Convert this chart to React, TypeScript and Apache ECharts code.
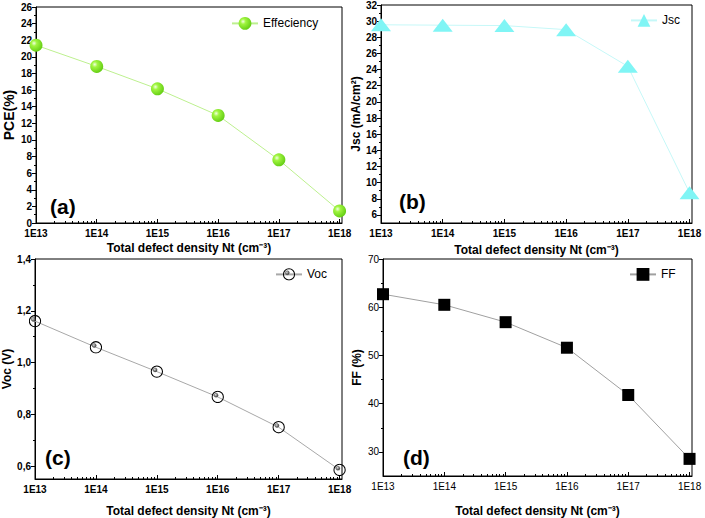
import React, { useEffect, useRef } from "react";
import * as echarts from "echarts";

// ---- data ----
const defectDensity = [1e13, 1e14, 1e15, 1e16, 1e17, 1e18];
const pceValues = [21.4, 18.85, 16.15, 12.95, 7.6, 1.45];
const jscValues = [29.55, 29.5, 29.45, 28.95, 24.4, 8.75];
const vocValues = [1.16, 1.059, 0.965, 0.867, 0.75, 0.585];
const ffValues = [62.7, 60.5, 56.9, 51.6, 41.8, 28.55];

const xMajorExponents = [13, 14, 15, 16, 17, 18];
const pceTicks = [0, 2, 4, 6, 8, 10, 12, 14, 16, 18, 20, 22, 24, 26];
const pceMinorTicks = [1, 3, 5, 7, 9, 11, 13, 15, 17, 19, 21, 23, 25];
const jscTicks = [6, 8, 10, 12, 14, 16, 18, 20, 22, 24, 26, 28, 30, 32];
const jscMinorTicks = [7, 9, 11, 13, 15, 17, 19, 21, 23, 25, 27, 29, 31];
const vocTicks = [0.6, 0.8, 1.0, 1.2, 1.4];
const vocMinorTicks = [0.7, 0.9, 1.1, 1.3];
const ffTicks = [30, 40, 50, 60, 70];
const ffMinorTicks = [35, 45, 55, 65];

const FONT = "'Liberation Sans', Arial, sans-serif";
const X_NAME = "Total defect density Nt (cm\u207B\u00B3)";
const X_MAX = 18.04;

const xMinor: number[] = [];
for (let e = 13; e < 18; e++) {
  for (let k = 2; k <= 9; k++) xMinor.push(e + Math.log10(k));
}

const vocSymbolSvg =
  "<svg xmlns='http://www.w3.org/2000/svg' width='26' height='26' viewBox='0 0 26 26'>" +
  "<defs><radialGradient id='g' cx='0.35' cy='0.35' r='0.7'>" +
  "<stop offset='0' stop-color='#dcdcdc'/><stop offset='0.5' stop-color='#8a8a8a'/><stop offset='1' stop-color='#404040'/>" +
  "</radialGradient></defs>" +
  "<circle cx='13' cy='13' r='11.3' fill='none' stroke='#000' stroke-width='2.1'/>" +
  "<circle cx='9.6' cy='9.6' r='4' fill='url(#g)' stroke='#333' stroke-width='0.8'/>" +
  "</svg>";
const vocSymbol = "image://data:image/svg+xml;charset=utf-8," + encodeURIComponent(vocSymbolSvg);

type Panel = {
  grid: { left: number; top: number; width: number; height: number };
  yMin: number;
  yMax: number;
  yTicks: number[];
  yMinor: number[];
  yName: string;
  yNameGap: number;
  yNameSize: number;
  bold: boolean;
  fmt: (v: number) => string;
};

const panels: Panel[] = [
  {
    grid: { left: 36, top: 7, width: 306, height: 216 },
    yMin: 0, yMax: 26, yTicks: pceTicks, yMinor: pceMinorTicks,
    yName: "PCE(%)", yNameGap: 20, yNameSize: 14, bold: true,
    fmt: (v) => String(Math.round(v)),
  },
  {
    grid: { left: 381, top: 5, width: 311, height: 218 },
    yMin: 5, yMax: 32, yTicks: jscTicks, yMinor: jscMinorTicks,
    yName: "Jsc (mA/cm\u00B2)", yNameGap: 16, yNameSize: 12, bold: true,
    fmt: (v) => String(Math.round(v)),
  },
  {
    grid: { left: 35, top: 259, width: 307, height: 220 },
    yMin: 0.55, yMax: 1.4, yTicks: vocTicks, yMinor: vocMinorTicks,
    yName: "Voc (V)", yNameGap: 21, yNameSize: 12, bold: true,
    fmt: (v) => v.toFixed(1).replace(".", ","),
  },
  {
    grid: { left: 383, top: 259, width: 309, height: 217 },
    yMin: 25, yMax: 70, yTicks: ffTicks, yMinor: ffMinorTicks,
    yName: "FF (%)", yNameGap: 20, yNameSize: 12, bold: false,
    fmt: (v) => String(Math.round(v)),
  },
];

const xNameGaps = [19, 21, 26, 29];

function buildOption() {
  const grids: any[] = [];
  const xAxes: any[] = [];
  const yAxes: any[] = [];
  panels.forEach((p, i) => {
    grids.push({ ...p.grid, show: true, borderColor: "#000", borderWidth: 1, backgroundColor: "transparent" });
    const labelStyle = {
      fontFamily: FONT,
      fontSize: 10,
      fontWeight: p.bold ? "bold" : "normal",
      color: "#000",
    };
    xAxes.push({
      type: "value", gridIndex: i, min: 13, max: X_MAX, position: "bottom",
      axisLine: { show: true, onZero: false, lineStyle: { color: "#000", width: 1 } },
      axisTick: { show: true, inside: true, length: 4, customValues: xMajorExponents, lineStyle: { color: "#000" } },
      axisLabel: { ...labelStyle, customValues: xMajorExponents, margin: 5, formatter: (v: number) => "1E" + Math.round(v) },
      splitLine: { show: false },
      name: X_NAME, nameLocation: "middle", nameGap: xNameGaps[i],
      nameTextStyle: { fontFamily: FONT, fontSize: 12, fontWeight: "bold", color: "#000" },
    });
    xAxes.push({
      type: "value", gridIndex: i, min: 13, max: X_MAX, position: "bottom",
      axisLine: { show: false, onZero: false },
      axisTick: { show: true, inside: true, length: 2, customValues: xMinor, lineStyle: { color: "#000" } },
      axisLabel: { show: false },
      splitLine: { show: false },
    });
    yAxes.push({
      type: "value", gridIndex: i, min: p.yMin, max: p.yMax, position: "left",
      axisLine: { show: true, onZero: false, lineStyle: { color: "#000", width: 1 } },
      axisTick: { show: true, length: 4, customValues: p.yTicks, lineStyle: { color: "#000" } },
      axisLabel: { ...labelStyle, customValues: p.yTicks, margin: 4, formatter: p.fmt },
      splitLine: { show: false },
      name: p.yName, nameLocation: "middle", nameGap: p.yNameGap,
      nameTextStyle: { fontFamily: FONT, fontSize: p.yNameSize, fontWeight: "bold", color: "#000" },
    });
    yAxes.push({
      type: "value", gridIndex: i, min: p.yMin, max: p.yMax, position: "left",
      axisLine: { show: false, onZero: false },
      axisTick: { show: true, length: 2, customValues: p.yMinor, lineStyle: { color: "#000" } },
      axisLabel: { show: false },
      splitLine: { show: false },
    });
  });

  const toPoints = (vals: number[]) => defectDensity.map((n, k) => [Math.log10(n), vals[k]]);

  const greenSphere = new echarts.graphic.RadialGradient(0.35, 0.35, 0.7, [
    { offset: 0, color: "#f2ffe2" },
    { offset: 0.3, color: "#a0f540" },
    { offset: 1, color: "#62cc12" },
  ]);

  const series: any[] = [
    {
      name: "Effeciency", type: "line", xAxisIndex: 0, yAxisIndex: 0,
      data: toPoints(pceValues), symbol: "circle", symbolSize: 13,
      itemStyle: { color: greenSphere },
      lineStyle: { color: "#bdf08f", width: 1 },
    },
    {
      name: "Jsc", type: "line", xAxisIndex: 2, yAxisIndex: 2,
      data: toPoints(jscValues), symbol: "triangle", symbolSize: [20, 13],
      itemStyle: { color: "#80f5f5" },
      lineStyle: { color: "#c6f8f8", width: 1 },
    },
    {
      name: "Voc", type: "line", xAxisIndex: 4, yAxisIndex: 4,
      data: toPoints(vocValues), symbol: vocSymbol, symbolSize: 13,
      itemStyle: { color: "#777" },
      lineStyle: { color: "#a8a8a8", width: 1 },
    },
    {
      name: "FF", type: "line", xAxisIndex: 6, yAxisIndex: 6,
      data: toPoints(ffValues), symbol: "rect", symbolSize: 12,
      itemStyle: { color: "#000" },
      lineStyle: { color: "#a0a0a0", width: 1 },
    },
  ];

  const legendBase = {
    orient: "horizontal", itemWidth: 26, itemHeight: 16, itemGap: 5,
    textStyle: { fontFamily: FONT, fontSize: 12, color: "#000" },
    selectedMode: false,
  };
  const legends = [
    { ...legendBase, data: ["Effeciency"], left: 226, top: 12 },
    { ...legendBase, data: ["Jsc"], left: 625, top: 9 },
    { ...legendBase, data: ["Voc"], left: 270, top: 263 },
    { ...legendBase, data: ["FF"], left: 624, top: 263 },
  ];

  const panelLabel = (txt: string, x: number, y: number) => ({
    type: "text", x, y,
    style: { text: txt, fontFamily: FONT, fontSize: 21, fontWeight: "bold", fill: "#000", textVerticalAlign: "middle", verticalAlign: "middle" },
  });

  return {
    animation: false,
    backgroundColor: "#fff",
    grid: grids,
    xAxis: xAxes,
    yAxis: yAxes,
    legend: legends,
    series,
    graphic: [
      panelLabel("(a)", 50, 206),
      panelLabel("(b)", 399, 201),
      panelLabel("(c)", 45, 457),
      panelLabel("(d)", 403, 457),
    ],
  };
}

export default function App() {
  const ref = useRef<HTMLDivElement>(null);
  useEffect(() => {
    if (!ref.current) return;
    const chart = echarts.init(ref.current, undefined, { renderer: "svg" });
    chart.setOption(buildOption() as any);
    return () => chart.dispose();
  }, []);
  return (
    <div
      ref={ref}
      style={{ position: "fixed", left: 0, top: 0, width: 705, height: 518, background: "#fff" }}
    />
  );
}
